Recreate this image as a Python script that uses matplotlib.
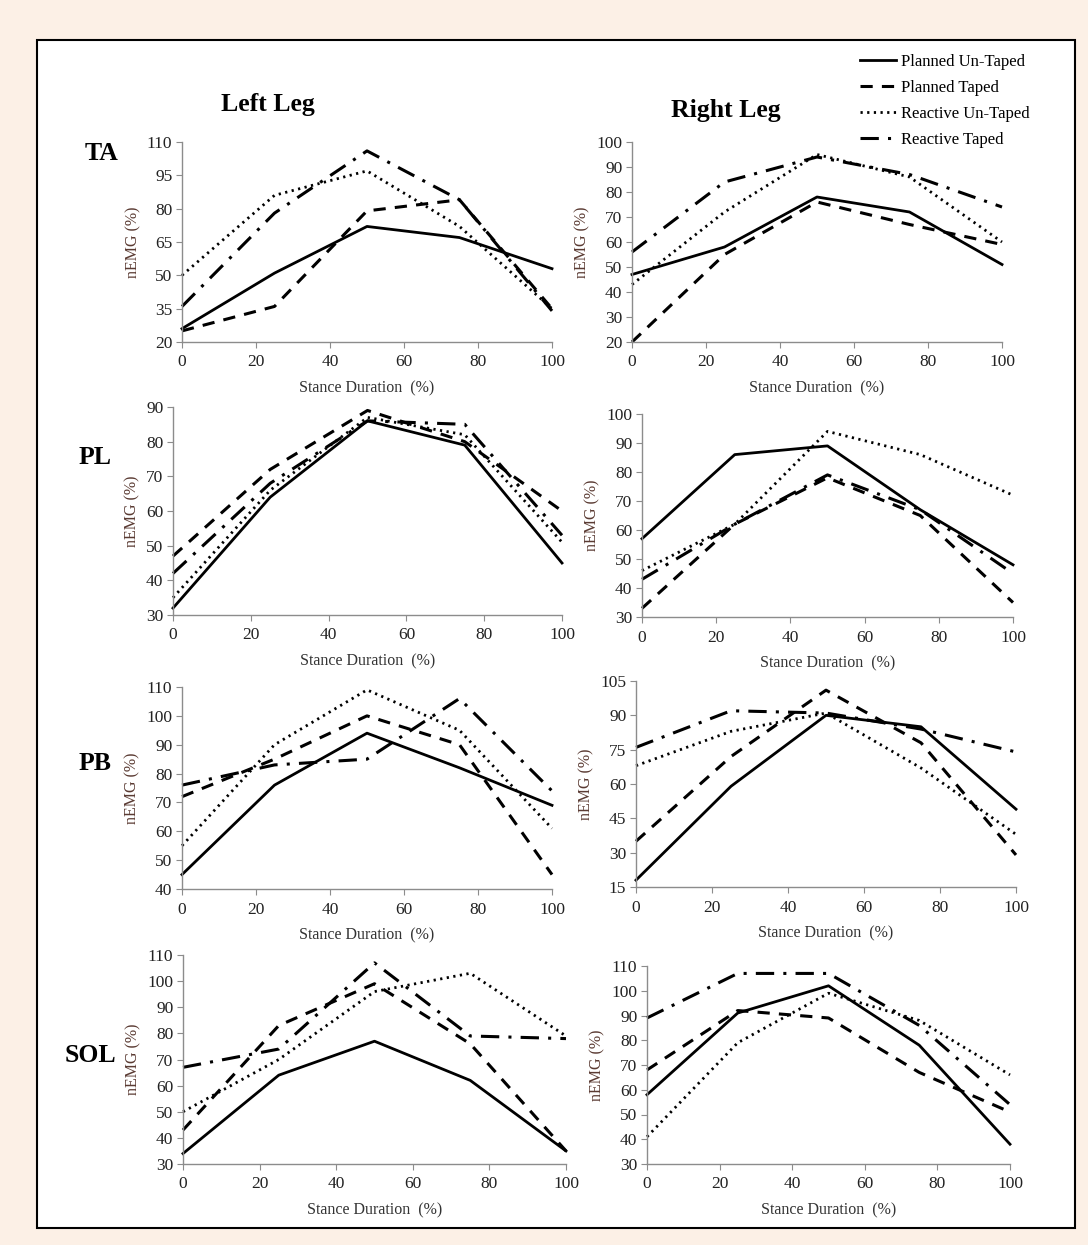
import matplotlib
matplotlib.use("Agg")
import matplotlib.pyplot as plt
from matplotlib.lines import Line2D
from matplotlib.patches import Rectangle

plt.rcParams['font.family'] = ['Liberation Serif', 'DejaVu Serif']

stance = [0, 25, 50, 75, 100]
series_names = ["Planned Un-Taped", "Planned Taped", "Reactive Un-Taped", "Reactive Taped"]
muscles = ["TA", "PL", "PB", "SOL"]

# nEMG values, order: planned untaped, planned taped, reactive untaped, reactive taped
ta_left = [[26, 51, 72, 67, 53], [25, 36, 79, 84, 35], [50, 86, 97, 72, 35], [36, 78, 106, 84, 34]]
ta_right = [[47, 58, 78, 72, 51], [20, 55, 76, 67, 59], [43, 72, 95, 86, 60], [56, 84, 94, 87, 74]]
pl_left = [[32, 64, 86, 79, 45], [47, 72, 89, 80, 60], [35, 66, 87, 82, 51], [42, 68, 86, 85, 53]]
pl_right = [[57, 86, 89, 67, 48], [33, 62, 78, 65, 35], [46, 62, 94, 86, 72], [43, 62, 79, 67, 45]]
pb_left = [[45, 76, 94, 82, 69], [72, 85, 100, 90, 45], [55, 90, 109, 95, 61], [76, 83, 85, 106, 74]]
pb_right = [[18, 59, 90, 85, 49], [35, 72, 101, 78, 29], [68, 83, 91, 67, 38], [76, 92, 91, 84, 74]]
sol_left = [[34, 64, 77, 62, 35], [43, 83, 99, 76, 35], [50, 70, 96, 103, 79], [67, 74, 107, 79, 78]]
sol_right = [[58, 91, 102, 78, 38], [68, 92, 89, 67, 51], [41, 79, 99, 88, 66], [89, 107, 107, 86, 54]]

left_data = [ta_left, pl_left, pb_left, sol_left]
right_data = [ta_right, pl_right, pb_right, sol_right]

# y axis ranges / steps per panel
left_ylim = [(20, 110, 15), (30, 90, 10), (40, 110, 10), (30, 110, 10)]
right_ylim = [(20, 100, 10), (30, 100, 10), (15, 105, 15), (30, 110, 10)]

# panel boxes in pixels: x0, x1, ytop, ybottom
left_boxes = [(182, 552, 142, 342), (173, 562, 407, 615), (182, 552, 687, 889), (183, 566, 955, 1164)]
right_boxes = [(632, 1002, 142, 342), (642, 1013, 414, 617), (636, 1016, 681, 887), (647, 1010, 966, 1164)]
row_label_pos = [(102, 153), (95, 457), (95, 763), (90, 1055)]

styles = [
    dict(linestyle="-", linewidth=2.0),
    dict(linestyle=(0, (4, 3)), linewidth=2.2),
    dict(linestyle=(0, (0.8, 1.6)), linewidth=2.0),
    dict(linestyle=(0, (6, 3, 1, 3)), linewidth=2.2),
]

W, H = 1088, 1245
fig = plt.figure(figsize=(W / 100, H / 100), dpi=100)
fig.patch.set_facecolor("#fcf0e6")
fig.patches.append(Rectangle((37 / W, 1 - 1228 / H), (1075 - 37) / W, (1228 - 40) / H,
                             transform=fig.transFigure, facecolor="white", edgecolor="black",
                             linewidth=1.5, zorder=-10))


def draw_panel(box, data, lim):
    x0, x1, yt, yb = box
    ax = fig.add_axes([x0 / W, 1 - yb / H, (x1 - x0) / W, (yb - yt) / H])
    ax.set_facecolor("none")
    for vals, st in zip(data, styles):
        ax.plot(stance, vals, color="black", clip_on=False, **st)
    lo, hi, step = lim
    ax.set_ylim(lo, hi)
    ax.set_xlim(0, 100)
    ax.set_yticks(range(lo, hi + 1, step))
    ax.set_xticks(range(0, 101, 20))
    for s in ["top", "right"]:
        ax.spines[s].set_visible(False)
    for s in ["left", "bottom"]:
        ax.spines[s].set_color("#8c8c8c")
        ax.spines[s].set_linewidth(1.0)
    ax.tick_params(colors="#8c8c8c", labelcolor="#222222", labelsize=12.5, length=4, direction="out")
    ax.tick_params(axis="x", pad=5)
    ax.tick_params(axis="y", pad=3)
    ax.set_ylabel("nEMG (%)", fontsize=11.5, color="#5a3a32", labelpad=4)
    ax.set_xlabel("Stance Duration  (%)", fontsize=11.5, color="#333333", labelpad=7)
    return ax


for i in range(4):
    draw_panel(left_boxes[i], left_data[i], left_ylim[i])
    draw_panel(right_boxes[i], right_data[i], right_ylim[i])
    px, py = row_label_pos[i]
    fig.text(px / W, 1 - py / H, muscles[i], fontsize=18.5, fontweight="bold", ha="center", va="center")

fig.text(268 / W, 1 - 105 / H, "Left Leg", fontsize=18.5, fontweight="bold", ha="center", va="center")
fig.text(726 / W, 1 - 110 / H, "Right Leg", fontsize=18.5, fontweight="bold", ha="center", va="center")

handles = [Line2D([], [], color="black", **st) for st in styles]
fig.legend(handles, series_names, loc="upper left", bbox_to_anchor=(853 / W, 1 - 47 / H),
           frameon=False, fontsize=12, handlelength=2.2, handletextpad=0.3, labelspacing=0.6,
           borderaxespad=0)

fig.savefig("out.png", dpi=100, facecolor=fig.get_facecolor())
